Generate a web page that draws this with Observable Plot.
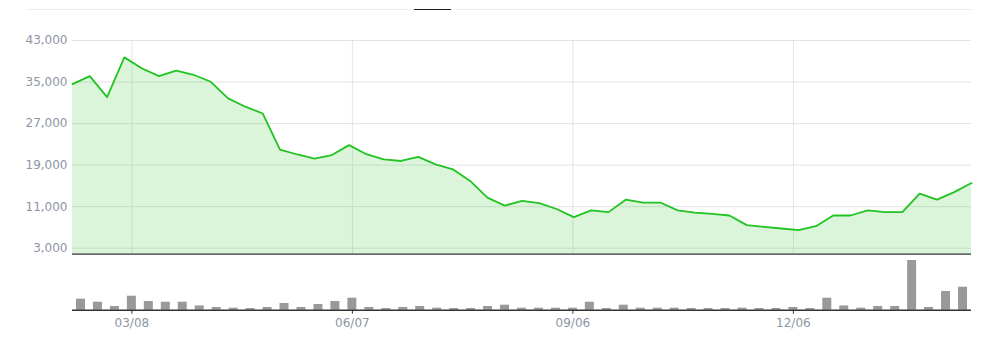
<!DOCTYPE html>
<html><head><meta charset="utf-8">
<script src="https://cdn.jsdelivr.net/npm/d3@7"></script>
<script src="https://cdn.jsdelivr.net/npm/@observablehq/plot@0.6"></script>
<style>
body{margin:0;background:#fff;}
#chart{position:relative;width:984px;height:339px;overflow:hidden;font-family:"DejaVu Sans",Verdana,sans-serif;}
#chart svg{position:absolute;left:0;}
.sep{position:absolute;left:26px;top:9px;width:946px;height:1px;background:#eeeeee;}
.mk{position:absolute;left:414px;top:8.5px;width:37px;height:1px;background:#222;}
</style></head><body>
<div id="chart"><div class="sep"></div><div class="mk"></div></div>
<script>
const weeks = ["02/16","02/23","03/01","03/08","03/15","03/22","03/29","04/05","04/12","04/19","04/26",
  "05/03","05/10","05/17","05/24","05/31","06/07","06/14","06/21","06/28","07/05","07/12","07/19","07/26",
  "08/02","08/09","08/16","08/23","08/30","09/06","09/13","09/20","09/27","10/04","10/11","10/18","10/25",
  "11/01","11/08","11/15","11/22","11/29","12/06","12/13","12/20","12/27","01/03","01/10","01/17","01/24",
  "01/31","02/07","02/14"];
const price = [34600,36150,32100,39750,37650,36150,37200,36400,35050,31850,30250,28950,22000,21050,20250,
  20950,22850,21100,20100,19800,20600,19150,18200,15950,12750,11200,12100,11700,10550,9000,10300,9950,
  12350,11800,11800,10300,9850,9600,9300,7450,7100,6800,6500,7250,9300,9300,10300,9950,9950,13500,12350,13800,15550];
const volume = [1100,800,370,1400,870,800,800,430,270,200,170,270,670,270,570,870,1200,270,170,270,370,200,
  170,170,370,500,200,200,200,200,800,170,500,200,200,200,170,170,170,200,170,170,270,170,1200,430,200,370,
  370,4970,270,1870,2300];
const yTicks = [3000, 11000, 19000, 27000, 35000, 43000];
const tickWeeks = ["03/08","06/07","09/06","12/06"];

const data = weeks.map((w, i) => ({week: w, idx: i, price: price[i], volume: volume[i]}));
const yMin = 1850, yMax = 43000;
const common = {
  width: 984, marginLeft: 72, marginRight: 13,
  style: {background: "transparent", fontFamily: "'DejaVu Sans', Verdana, sans-serif", fontSize: "12px", overflow: "visible"}
};
const bandX = {type: "band", domain: weeks, paddingInner: 0.47, paddingOuter: 0.235};

const gridPlot = Plot.plot({
  ...common, height: 256, marginTop: 40, marginBottom: 2.3,
  x: {...bandX, axis: null},
  marks: [Plot.ruleX(tickWeeks, {stroke: "#e6e6e6"})]
});

const linePlot = Plot.plot({
  ...common, height: 256, marginTop: 40, marginBottom: 2.3,
  x: {type: "linear", domain: [0, weeks.length - 1], axis: null},
  y: {domain: [yMin, yMax]},
  marks: [
    Plot.ruleY(yTicks, {stroke: "#e3e3e3"}),
    Plot.areaY(data, {x: "idx", y: "price", fill: "#22c322", fillOpacity: 0.17, clip: true}),
    Plot.lineY(data, {x: "idx", y: "price", stroke: "#22c322", strokeWidth: 1.8}),
    Plot.ruleY([yMin], {stroke: "#333", strokeWidth: 1.2}),
    Plot.axisY(yTicks, {tickSize: 0, tickPadding: 5, tickFormat: d3.format(","), fill: "#8d95a5", label: null})
  ]
});

const barPlot = Plot.plot({
  ...common, height: 83, marginTop: 4, marginBottom: 29.3,
  x: bandX,
  y: {domain: [0, d3.max(volume)], axis: null},
  marks: [
    Plot.barY(data, {x: "week", y: "volume", fill: "#999"}),
    Plot.ruleY([0], {stroke: "#333", strokeWidth: 1.6}),
    Plot.axisX(tickWeeks, {tickSize: 4, tickPadding: 4, stroke: "#333", fill: "#8d95a5", label: null})
  ]
});

const chart = document.getElementById("chart");
gridPlot.style.top = "0px";
linePlot.style.top = "0px";
barPlot.style.top = "256px";
chart.appendChild(gridPlot);
chart.appendChild(linePlot);
chart.appendChild(barPlot);
</script>
</body></html>
